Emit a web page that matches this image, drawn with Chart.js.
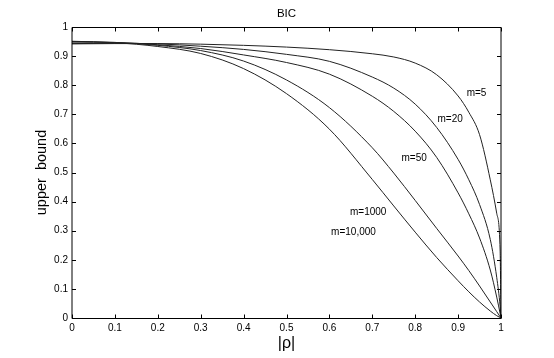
<!DOCTYPE html>
<html>
<head>
<meta charset="utf-8">
<title>BIC</title>
<style>
  body { margin: 0; background: #fff; }
</style>
</head>
<body>
<canvas id="chart" width="554" height="358"></canvas>
<script src="https://cdn.jsdelivr.net/npm/chart.js@4.4.1/dist/chart.umd.min.js"></script>
<script>
// |rho| sample points and upper bound for each m
var rho    = [0, 0.1, 0.2, 0.3, 0.4, 0.5, 0.6, 0.7, 0.75, 0.8, 0.85, 0.9, 0.925, 0.95, 0.975, 0.99, 0.998, 1];
var m5     = [0.942, 0.943, 0.943, 0.941, 0.937, 0.931, 0.922, 0.908, 0.897, 0.876, 0.836, 0.763, 0.707, 0.630, 0.475, 0.360, 0.230, 0];
var m20    = [0.943, 0.944, 0.942, 0.934, 0.923, 0.906, 0.882, 0.828, 0.790, 0.735, 0.655, 0.545, 0.475, 0.390, 0.270, 0.140, 0.040, 0];
var m50    = [0.948, 0.947, 0.939, 0.926, 0.904, 0.878, 0.838, 0.762, 0.710, 0.642, 0.552, 0.430, 0.358, 0.275, 0.165, 0.072, 0.015, 0];
var m1000  = [0.950, 0.947, 0.937, 0.919, 0.883, 0.818, 0.723, 0.585, 0.498, 0.404, 0.308, 0.213, 0.163, 0.110, 0.055, 0.022, 0.004, 0];
var m10000 = [0.951, 0.946, 0.933, 0.909, 0.857, 0.771, 0.649, 0.476, 0.385, 0.295, 0.208, 0.128, 0.090, 0.055, 0.024, 0.008, 0.0015, 0];

// curve labels, anchored (left edge) in data units
var labelText  = ['m=5', 'm=20', 'm=50', 'm=1000', 'm=10,000'];
var labelRho   = [0.920, 0.852, 0.768, 0.648, 0.604];
var labelBound = [0.772, 0.682, 0.548, 0.362, 0.294];

var FONT = "'Liberation Sans', Arial, Helvetica, sans-serif";
Chart.defaults.font.family = FONT;
Chart.defaults.color = '#000';

function pts(ys) {
  return rho.map(function (r, i) { return { x: r, y: ys[i] }; });
}

function curve(ys) {
  return {
    data: pts(ys),
    borderColor: '#222',
    borderWidth: 1,
    pointRadius: 0,
    fill: false,
    cubicInterpolationMode: 'monotone'
  };
}

function fmt(v) {
  return String(Math.round(v * 10) / 10);
}

// box round the plot, inward ticks on all four sides, curve labels
var frame = {
  id: 'frame',
  afterDatasetsDraw: function (chart) {
    var ctx = chart.ctx, a = chart.chartArea;
    var xs = chart.scales.x, ys = chart.scales.y;
    var L = Math.round(a.left), R = Math.round(a.right);
    var T = Math.round(a.top) + 0.5, B = Math.round(a.bottom) + 0.5;
    var tl = 4;
    ctx.save();
    ctx.strokeStyle = '#000';
    ctx.lineWidth = 1;
    ctx.beginPath();
    ctx.moveTo(L, T); ctx.lineTo(R, T);
    ctx.moveTo(L, B); ctx.lineTo(R, B);
    ctx.moveTo(L, T); ctx.lineTo(L, B);
    ctx.moveTo(R, T); ctx.lineTo(R, B);
    xs.ticks.forEach(function (t) {
      var px = Math.round(xs.getPixelForValue(t.value)) + 0.5;
      ctx.moveTo(px, B); ctx.lineTo(px, B - tl);
      ctx.moveTo(px, T); ctx.lineTo(px, T + tl);
    });
    ys.ticks.forEach(function (t) {
      var py = Math.round(ys.getPixelForValue(t.value)) + 0.5;
      ctx.moveTo(L, py); ctx.lineTo(L + tl, py);
      ctx.moveTo(R, py); ctx.lineTo(R - tl, py);
    });
    ctx.stroke();

    ctx.fillStyle = '#000';
    ctx.font = '10px ' + FONT;
    ctx.textAlign = 'left';
    ctx.textBaseline = 'middle';
    labelText.forEach(function (txt, i) {
      ctx.fillText(txt, xs.getPixelForValue(labelRho[i]), ys.getPixelForValue(labelBound[i]));
    });
    ctx.restore();
  }
};

new Chart(document.getElementById('chart').getContext('2d'), {
  type: 'line',
  data: {
    datasets: [curve(m5), curve(m20), curve(m50), curve(m1000), curve(m10000)]
  },
  options: {
    responsive: false,
    animation: false,
    layout: { padding: { left: 0, right: 53, top: 0, bottom: 0 } },
    plugins: {
      legend: { display: false },
      tooltip: { enabled: false },
      title: {
        display: true,
        text: 'BIC',
        fullSize: false,
        color: '#000',
        font: { size: 11.5, weight: 'normal' },
        padding: { top: 6.8, bottom: 6.4 }
      }
    },
    scales: {
      x: {
        type: 'linear',
        min: 0,
        max: 1,
        grid: { display: false, drawTicks: false },
        border: { display: false },
        ticks: { stepSize: 0.1, padding: 4, maxRotation: 0, autoSkip: false, font: { size: 10 }, callback: fmt },
        title: { display: true, text: '|ρ|', font: { size: 16 }, padding: { top: 0, bottom: 4.4 } },
        afterFit: function (s) { s.height = 40; }
      },
      y: {
        type: 'linear',
        min: 0,
        max: 1,
        grid: { display: false, drawTicks: false },
        border: { display: false },
        ticks: { stepSize: 0.1, padding: 4, autoSkip: false, font: { size: 10 }, callback: fmt },
        title: { display: true, text: 'upper  bound', font: { size: 14.5 }, padding: { top: 33.3, bottom: 0 } },
        afterFit: function (s) { s.width = 72; }
      }
    }
  },
  plugins: [frame]
});
</script>
</body>
</html>
